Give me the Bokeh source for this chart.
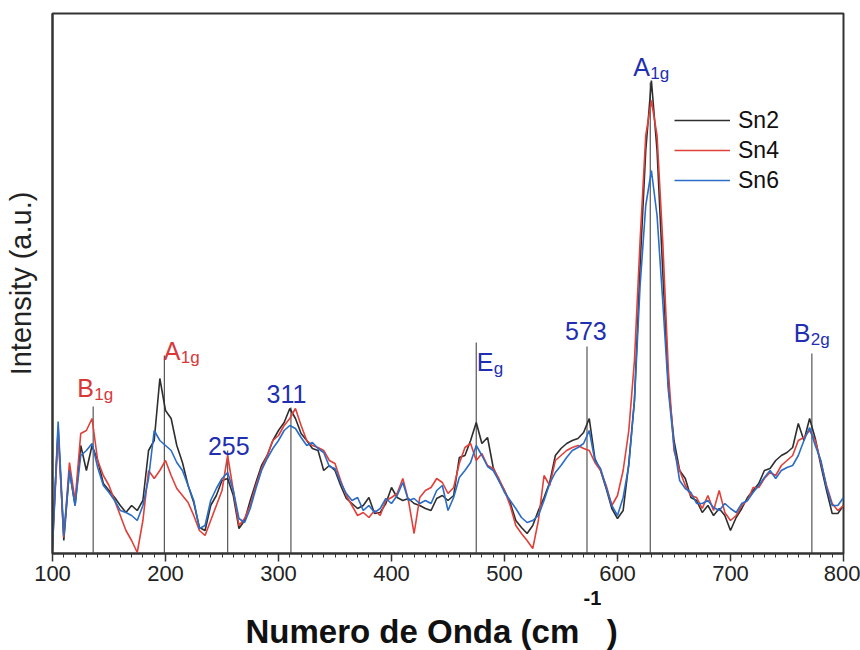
from bokeh.plotting import figure
from bokeh.models import Range1d, Label, Legend, LegendItem, SingleIntervalTicker, FixedTicker, Title
from bokeh.embed import file_html
from bokeh.resources import INLINE

# Raman shift grid (cm^-1)
wavenumber = list(range(100, 805, 5))

sn2 = [13, 125, 13, 83, 48, 108, 83, 108, 93, 70, 63, 56, 48, 41, 48, 43, 53, 103, 113, 175,
       143, 135, 108, 91, 68, 51, 26, 23, 48, 58, 73, 75, 58, 25, 33, 53, 71, 88, 98, 113,
       123, 131, 145, 135, 120, 113, 105, 103, 83, 88, 83, 68, 55, 50, 45, 48, 56, 40, 41, 50,
       66, 56, 53, 55, 50, 48, 45, 43, 55, 58, 53, 58, 96, 98, 113, 131, 110, 116, 86, 73,
       63, 51, 33, 26, 20, 28, 43, 56, 71, 98, 105, 110, 113, 115, 121, 135, 95, 83, 65, 45,
       35, 43, 90, 153, 288, 403, 473, 403, 283, 168, 113, 83, 75, 56, 53, 41, 48, 38, 45, 38,
       23, 36, 45, 56, 63, 70, 83, 85, 93, 98, 101, 106, 130, 113, 135, 115, 88, 63, 40, 40,
       48]

sn4 = [8, 121, 16, 91, 53, 120, 123, 135, 93, 78, 68, 53, 38, 23, 13, 1, 33, 83, 75, 83,
       93, 78, 65, 58, 51, 38, 23, 18, 33, 48, 63, 98, 63, 28, 35, 48, 68, 85, 98, 113,
       118, 128, 135, 145, 128, 113, 108, 106, 103, 93, 90, 73, 58, 48, 38, 41, 36, 43, 38, 53,
       56, 60, 75, 53, 20, 56, 63, 66, 75, 71, 60, 66, 90, 106, 110, 93, 100, 88, 85, 75,
       63, 48, 28, 20, 13, 5, 33, 78, 68, 93, 98, 103, 106, 108, 105, 103, 91, 83, 68, 48,
       58, 83, 123, 193, 313, 418, 453, 418, 313, 183, 103, 83, 68, 58, 56, 45, 58, 43, 63, 41,
       33, 38, 48, 53, 66, 66, 75, 81, 78, 88, 93, 98, 113, 116, 123, 113, 91, 68, 50, 43,
       48]

sn6 = [5, 132, 18, 83, 48, 98, 103, 110, 86, 68, 61, 53, 43, 41, 38, 33, 48, 75, 123, 113,
       108, 103, 91, 83, 68, 53, 25, 28, 53, 65, 75, 81, 63, 35, 31, 45, 65, 83, 95, 105,
       113, 123, 128, 125, 116, 108, 111, 105, 101, 87, 85, 71, 60, 53, 56, 43, 48, 41, 45, 55,
       50, 58, 71, 53, 55, 50, 53, 50, 63, 68, 43, 56, 76, 83, 91, 108, 98, 87, 83, 73,
       61, 53, 45, 36, 31, 33, 38, 53, 70, 81, 88, 96, 103, 106, 110, 123, 93, 85, 66, 48,
       38, 56, 88, 153, 268, 348, 383, 338, 253, 163, 108, 73, 65, 61, 50, 50, 53, 46, 43, 50,
       45, 41, 50, 53, 61, 68, 76, 83, 75, 83, 86, 88, 98, 113, 126, 108, 93, 66, 48, 48,
       56]

series_names = ["Sn2", "Sn4", "Sn6"]
series_colors = ["#2e2e2e", "#e0403a", "#2a6cc6"]

# Band assignments: position (cm^-1) and height of the marker line
peak_pos = [136, 199, 255, 311, 475, 573, 629, 772]
peak_top = [147, 198, 103, 146, 211, 207, 471, 200]

FONT = "Liberation Sans"
RED = "#d8383a"
BLUE = "#1f2fb0"

p = figure(width=860, height=650, output_backend="svg", toolbar_location=None,
           x_range=Range1d(100, 800), y_range=Range1d(0, 540),
           min_border_left=52, min_border_right=17, min_border_top=13, min_border_bottom=97)
p.background_fill_color = "white"
p.border_fill_color = "white"
p.outline_line_color = "#333333"
p.outline_line_width = 2
p.xgrid.visible = False
p.ygrid.visible = False

# marker lines
p.segment(x0=peak_pos, y0=[0] * len(peak_pos), x1=peak_pos, y1=peak_top,
          line_color="#555555", line_width=1.2)

renderers = []
for name, ys, col in zip(series_names, [sn2, sn4, sn6], series_colors):
    r = p.line(wavenumber, ys, line_color=col, line_width=1.6)
    renderers.append(r)

# axes
xa = p.xaxis[0]
xa.ticker = SingleIntervalTicker(interval=100, num_minor_ticks=10)
xa.major_tick_out = 8
xa.major_tick_in = 0
xa.minor_tick_out = 4
xa.minor_tick_in = 0
xa.axis_line_width = 2
xa.axis_line_color = "#333333"
xa.major_tick_line_width = 1.5
xa.major_tick_line_color = "#333333"
xa.minor_tick_line_color = "#333333"
xa.major_label_text_font = FONT
xa.major_label_text_font_size = "22px"
xa.major_label_text_color = "#222222"
xa.major_label_standoff = 4

ya = p.yaxis[0]
ya.ticker = FixedTicker(ticks=[])
ya.major_tick_out = 0
ya.minor_tick_out = 0
ya.axis_line_width = 2
ya.axis_line_color = "#333333"
ya.axis_label = "Intensity (a.u.)"
ya.axis_label_text_font = FONT
ya.axis_label_text_font_style = "normal"
ya.axis_label_text_font_size = "29px"
ya.axis_label_text_color = "#222222"
ya.axis_label_standoff = 16

# x axis title with a raised "-1": two stacked titles below the axis
sup = Title(text="-1", align="left", offset=531, standoff=11, text_font=FONT,
            text_font_size="20px", text_font_style="bold", text_color="#111111")
main = Title(text="Numero de Onda (cm\u00a0\u00a0\u00a0)", align="left", offset=193, standoff=0,
             text_font=FONT, text_font_size="33px", text_font_style="bold", text_color="#111111")
p.add_layout(sup, "below")
p.add_layout(main, "below")

# band labels (data units)
def band(x, y, main_text, sub, color, align="left"):
    p.add_layout(Label(x=x, y=y, text=main_text, text_font=FONT, text_font_size="25px",
                       text_color=color, text_align=align, text_baseline="alphabetic"))
    if sub:
        p.add_layout(Label(x=x, y=y, x_offset=17, y_offset=-7, text=sub, text_font=FONT,
                           text_font_size="17px", text_color=color, text_align="left",
                           text_baseline="alphabetic"))

band(122, 166, "B", "1g", RED)
band(198.5, 203, "A", "1g", RED)
band(256, 108, "255", None, BLUE, align="center")
band(307, 160, "311", None, BLUE, align="center")
band(475.5, 192, "E", "g", BLUE)
band(572, 223, "573", None, BLUE, align="center")
band(614, 487, "A", "1g", BLUE)
band(756, 221, "B", "2g", BLUE)

legend = Legend(items=[LegendItem(label=n, renderers=[r]) for n, r in zip(series_names, renderers)],
                location=(622, 358), border_line_color=None, background_fill_alpha=0,
                label_text_font=FONT, label_text_font_size="23px", label_text_color="#111111",
                glyph_width=56, glyph_height=30, label_height=30, spacing=0, padding=0,
                margin=0, label_standoff=8)
p.add_layout(legend)

open("out.html", "w").write(file_html(p, INLINE))
